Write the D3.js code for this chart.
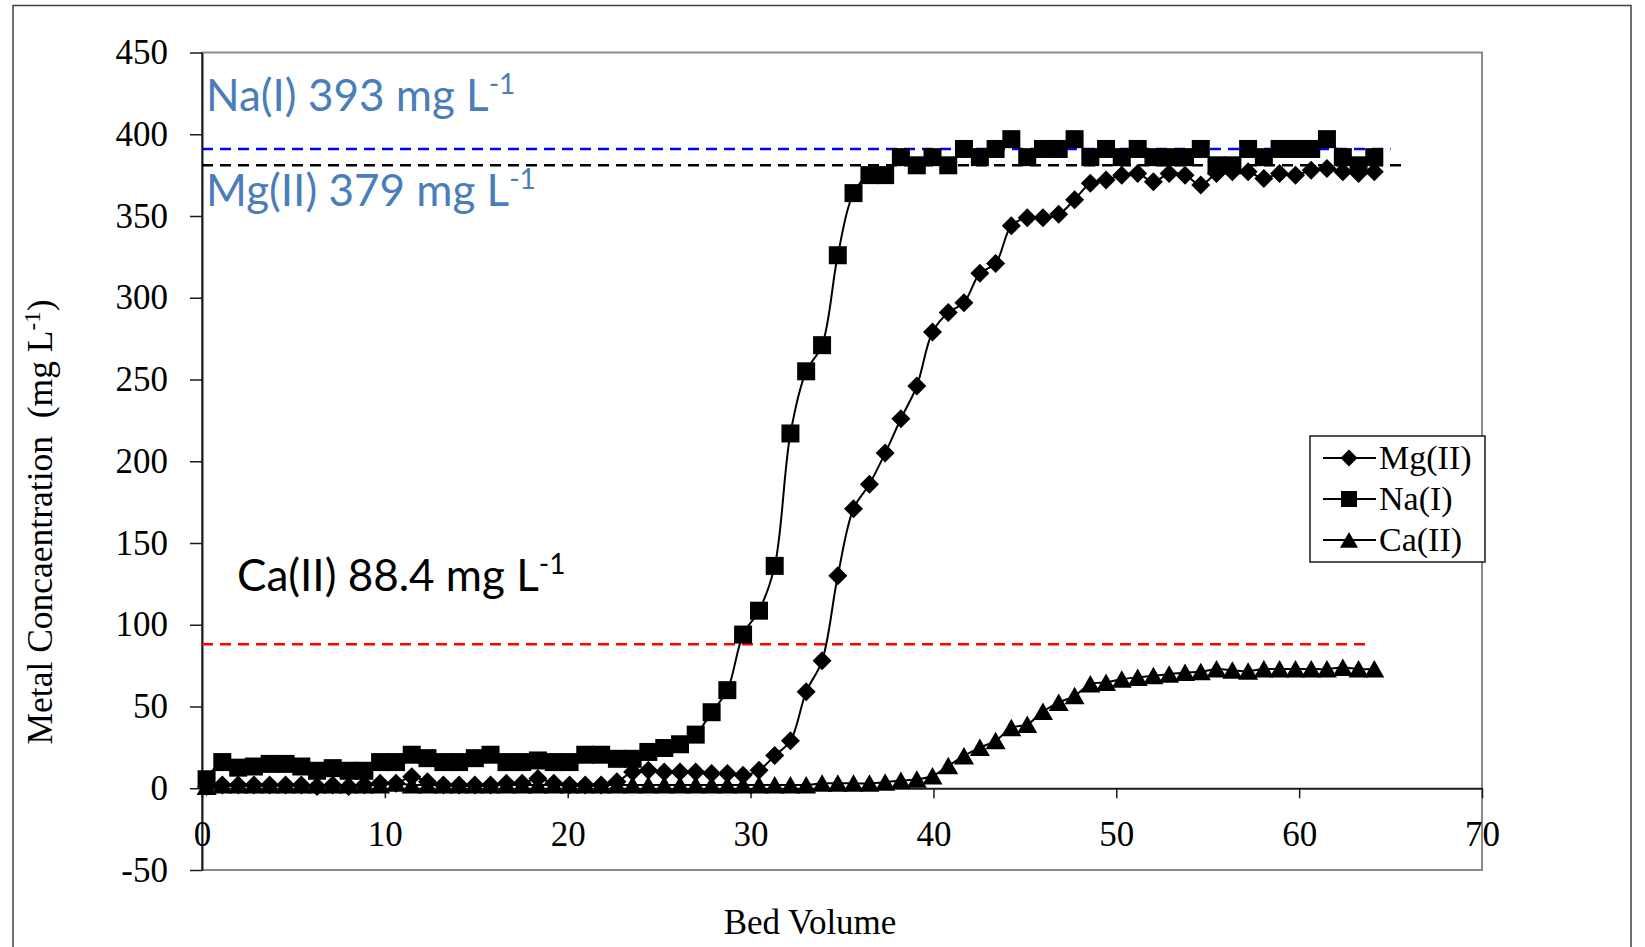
<!DOCTYPE html>
<html>
<head>
<meta charset="utf-8">
<script src="https://cdn.jsdelivr.net/npm/d3@7"></script>
<style>
    html, body { margin: 0; padding: 0; background: #fff; }
    svg { display: block; }
    .tick text { font-family: "Liberation Serif", "Times New Roman", serif; font-size: 35px; fill: #000; }
</style>
</head>
<body>
<svg id="chart" width="1645" height="947"></svg>
<script>
// bed volumes shared by all three series
const bedVolume = [
    0.25, 1.11, 1.98, 2.84, 3.70, 4.57, 5.43, 6.29, 7.15, 8.02,
    8.88, 9.74, 10.61, 11.47, 12.33, 13.20, 14.06, 14.92, 15.78, 16.65,
    17.51, 18.37, 19.24, 20.10, 20.96, 21.83, 22.69, 23.55, 24.41, 25.28,
    26.14, 27.00, 27.87, 28.73, 29.59, 30.46, 31.32, 32.18, 33.04, 33.91,
    34.77, 35.63, 36.50, 37.36, 38.22, 39.09, 39.95, 40.81, 41.67, 42.54,
    43.40, 44.26, 45.13, 45.99, 46.85, 47.72, 48.58, 49.44, 50.30, 51.17,
    52.03, 52.89, 53.76, 54.62, 55.48, 56.35, 57.21, 58.07, 58.93, 59.80,
    60.66, 61.52, 62.39, 63.25, 64.11
];

const mgValues = [
    1, 2, 2, 2, 2, 2, 2, 1, 2, 1,
    2, 3, 3, 7, 4, 2, 2, 2, 2, 3,
    3, 6, 3, 2, 2, 2, 4, 10, 11, 10,
    10, 10, 9, 9, 8, 11, 20, 29, 59, 78,
    130, 171, 186, 205, 226, 246, 279, 291, 297, 315,
    321, 344, 349, 349, 351, 360, 370, 372, 375, 376,
    371, 376, 375, 369, 376, 377, 377, 373, 376, 375,
    378, 379, 377, 376, 377
];

const naValues = [
    5.5, 16, 12.6, 13.3, 14.9, 14.9, 13.3, 10.7, 12.3, 10.7,
    10.7, 16, 16, 20.5, 18.4, 16, 16, 18.4, 20.5, 16,
    16, 17, 16, 16, 20.5, 20.5, 18, 18, 22.2, 24.6,
    26.9, 32.8, 46.5, 60, 94, 108.6, 136, 217, 255, 271,
    326, 364, 375, 375, 386, 381, 386, 381, 391, 386,
    391, 397, 386, 391, 391, 397, 386, 391, 386, 391,
    386, 386, 386, 391, 381, 381, 391, 386, 391, 391,
    391, 397, 386, 381, 386
];

const caValues = [
    1, 2, 2, 2, 2, 2, 2, 2, 2, 2,
    2, 2, 3, 2, 2, 2, 2, 2, 2, 2,
    2, 2, 2, 2, 2, 2, 2, 2, 2, 2,
    2, 2, 2, 2, 2, 2, 2, 2, 2, 3,
    3, 3, 3, 3.7, 4.7, 5.5, 7.5, 13.7, 19.8, 24.9,
    29, 37, 39, 47, 52.4, 56.5, 63.7, 64.7, 66.7, 67.8,
    68.8, 69.8, 70.8, 71.2, 72.9, 72.2, 71.6, 72.9, 72.9, 72.9,
    72.9, 72.9, 73.9, 72.9, 72.9
];

const seriesNames = ['Mg(II)', 'Na(I)', 'Ca(II)'];

// feed concentration reference lines (level, last bed volume)
const refLevels = [391, 381, 88];
const refEnds = [65.0, 65.9, 63.9];
const refLabels = ['Na(I) 393 mg L', 'Mg(II) 379 mg L', 'Ca(II) 88.4 mg L'];

const xTicks = [0, 10, 20, 30, 40, 50, 60, 70];
const yTicks = [-50, 0, 50, 100, 150, 200, 250, 300, 350, 400, 450];

const serif = '"Liberation Serif", "Times New Roman", serif';
const sans = 'Lato, "Open Sans", sans-serif';

const svg = d3.select('#chart');

const x = d3.scaleLinear().domain([0, 70]).range([202, 1482]);
const y = d3.scaleLinear().domain([-50, 450]).range([870, 52.5]);

// marker shapes, size = full width in px
const diamond = {
    draw(ctx, s) {
        const h = s / 2;
        ctx.moveTo(0, -h);
        ctx.lineTo(h, 0);
        ctx.lineTo(0, h);
        ctx.lineTo(-h, 0);
        ctx.closePath();
    }
};
const square = {
    draw(ctx, s) {
        const h = s / 2;
        ctx.rect(-h, -h, s, s);
    }
};
const triangle = {
    draw(ctx, s) {
        const h = s / 2;
        ctx.moveTo(0, -h * 0.9);
        ctx.lineTo(h, h * 0.85);
        ctx.lineTo(-h, h * 0.85);
        ctx.closePath();
    }
};
const markerTypes = [diamond, square, triangle];
const markerSizes = [19, 18, 20];

// outer frame
svg.append('rect')
    .attr('x', 13).attr('y', 5.5)
    .attr('width', 1618).attr('height', 980)
    .attr('fill', 'none')
    .attr('stroke', '#404040')
    .attr('stroke-width', 1.5);

// plot area border
svg.append('rect')
    .attr('x', x(0)).attr('y', y(450))
    .attr('width', x(70) - x(0))
    .attr('height', y(-50) - y(450))
    .attr('fill', 'none')
    .attr('stroke', '#8a8a8a')
    .attr('stroke-width', 2);

// axes (plain hyphen for negatives, like the original)
const yAxis = d3.axisLeft(y).tickValues(yTicks).tickFormat(d => String(d))
    .tickSize(12).tickSizeOuter(0).tickPadding(22);
const gy = svg.append('g').attr('transform', `translate(${x(0)},0)`).call(yAxis);
gy.select('.domain').attr('stroke', '#1a1a1a').attr('stroke-width', 2);
gy.selectAll('.tick line').attr('stroke', '#1a1a1a').attr('stroke-width', 1.5);

const xAxis = d3.axisBottom(x).tickValues(xTicks).tickFormat(d => String(d))
    .tickSize(10).tickSizeOuter(0).tickPadding(23);
const gx = svg.append('g').attr('transform', `translate(0,${y(0)})`).call(xAxis);
gx.select('.domain').attr('stroke', '#1a1a1a').attr('stroke-width', 2);
gx.selectAll('.tick line').attr('stroke', '#1a1a1a').attr('stroke-width', 1.5);

// axis titles
const yTitle = svg.append('text')
    .attr('transform', 'translate(52,522) rotate(-90)')
    .attr('text-anchor', 'middle')
    .attr('font-family', serif)
    .attr('font-size', 35.5)
    .style('white-space', 'pre');
yTitle.append('tspan').text('Metal Concaentration  (mg L');
yTitle.append('tspan').attr('dy', -12).attr('font-size', 23).text('-1');
yTitle.append('tspan').attr('dy', 12).text(')');

svg.append('text')
    .attr('x', 810).attr('y', 934)
    .attr('text-anchor', 'middle')
    .attr('font-family', serif)
    .attr('font-size', 35)
    .text('Bed Volume');

// dashed reference lines
const refColors = ['#0000ff', '#000000', '#ff0000'];
refLevels.forEach((lvl, i) => {
    svg.append('line')
        .attr('x1', x(0)).attr('x2', x(refEnds[i]))
        .attr('y1', y(lvl)).attr('y2', y(lvl))
        .attr('stroke', refColors[i])
        .attr('stroke-width', 2.5)
        .attr('stroke-dasharray', '11,7');
});

// series
const allValues = [mgValues, naValues, caValues];
const line = d3.line()
    .x(d => x(d[0]))
    .y(d => y(d[1]))
    .curve(d3.curveCatmullRom.alpha(0.5));

allValues.forEach((vals, s) => {
    const pts = bedVolume.map((bv, i) => [bv, vals[i]]);
    const g = svg.append('g').attr('class', 'series');
    g.append('path')
        .attr('d', line(pts))
        .attr('fill', 'none')
        .attr('stroke', '#000')
        .attr('stroke-width', 2);
    g.selectAll('path.marker')
        .data(pts)
        .enter()
        .append('path')
        .classed('marker', true)
        .attr('transform', d => `translate(${x(d[0])},${y(d[1])})`)
        .attr('d', d3.symbol().type(markerTypes[s]).size(markerSizes[s]))
        .attr('fill', '#000');
});

// annotation labels
const labelPos = [[206, 111, '#4a7ebb'], [206, 206, '#4a7ebb'], [237, 591, '#000']];
refLabels.forEach((txt, i) => {
    const t = svg.append('text')
        .attr('x', labelPos[i][0]).attr('y', labelPos[i][1])
        .attr('font-family', sans)
        .attr('font-size', 44)
        .attr('fill', labelPos[i][2]);
    t.append('tspan').text(txt);
    t.append('tspan').attr('dy', -17).attr('font-size', 28).text('-1');
});

// legend
const legend = svg.append('g');
legend.append('rect')
    .attr('x', 1310).attr('y', 436)
    .attr('width', 175).attr('height', 126)
    .attr('fill', '#fff')
    .attr('stroke', '#1a1a1a')
    .attr('stroke-width', 1.5);
seriesNames.forEach((name, i) => {
    const cy = 458 + i * 41;
    legend.append('line')
        .attr('x1', 1323).attr('x2', 1376)
        .attr('y1', cy).attr('y2', cy)
        .attr('stroke', '#000').attr('stroke-width', 2);
    legend.append('path')
        .attr('transform', `translate(1349,${cy})`)
        .attr('d', d3.symbol().type(markerTypes[i]).size(markerSizes[i] - 2))
        .attr('fill', '#000');
    legend.append('text')
        .attr('x', 1379).attr('y', cy + 11)
        .attr('font-family', serif)
        .attr('font-size', 34)
        .text(name);
});
</script>
</body>
</html>
